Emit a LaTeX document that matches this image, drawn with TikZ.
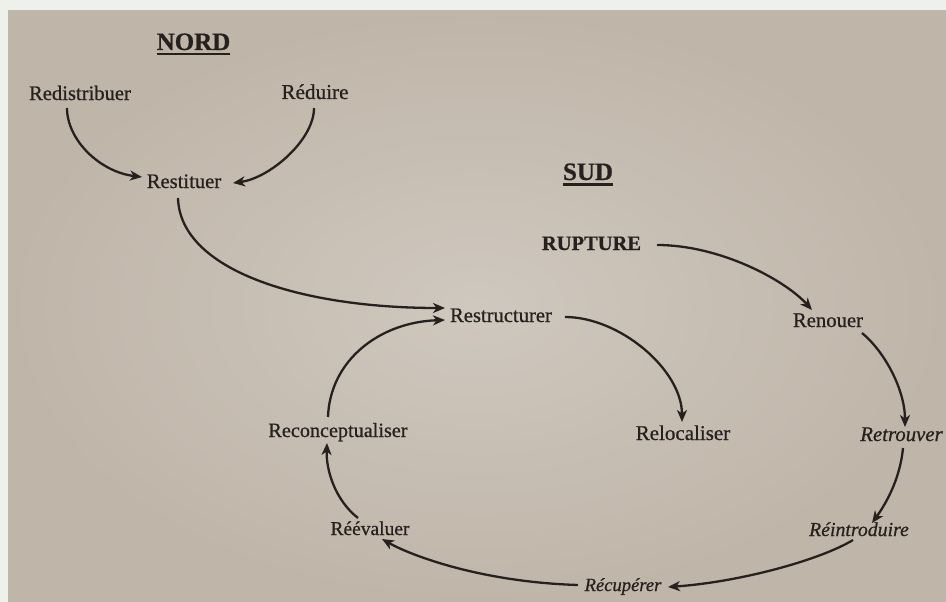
\documentclass[tikz,border=0pt]{standalone}
\usepackage{fontspec}
\setmainfont{Liberation Serif}[FakeBold=0.7]
\usetikzlibrary{arrows.meta,calc}
\definecolor{ink}{HTML}{26211E}
\definecolor{frame}{HTML}{EEF0EC}
\definecolor{pagein}{HTML}{CFC8BE}
\definecolor{pageout}{HTML}{C0B5A9}
\newcommand{\myul}[1]{\setbox0\hbox{#1}\rlap{\color{ink}\rule[-5.5pt]{\wd0}{2.5pt}}\box0}
\tikzset{
  lbl/.style={inner sep=0pt, anchor=base, text=ink, font=\fontsize{20.6}{24}\selectfont},
  ital/.style={lbl, font=\fontsize{20.6}{24}\selectfont\itshape},
  head/.style={lbl, font=\fontsize{25}{30}\selectfont\bfseries},
  arr/.style={draw=ink, line width=2.3pt, -{Stealth[length=12pt,width=10pt,inset=3.5pt]}}
}
\begin{document}
\begin{tikzpicture}[x=1pt,y=-1pt]
\useasboundingbox (0,0) rectangle (946,602);
\fill[frame] (0,0) rectangle (946,602);
\shade[inner color=pagein, outer color=pageout] (8,11) rectangle (946,602);

% NORD
\node[head] (nord) at (193.5,50) {\myul{NORD}};
\node[lbl] (redistribuer) at (80,100) {Redistribuer};
\node[lbl, font=\fontsize{21.2}{24}\selectfont] (reduire) at (315,99) {Réduire};
\node[lbl] (restituer) at (184,188) {Restituer};

% SUD
\node[head] (sud) at (588,180) {\myul{SUD}};
\node[lbl, font=\fontsize{20.5}{24}\selectfont\bfseries] (rupture) at (591.5,250) {RUPTURE};
\node[lbl] (restructurer) at (501,322) {Restructurer};
\node[lbl, font=\fontsize{20.7}{24}\selectfont] (renouer) at (828,327) {Renouer};
\node[lbl, font=\fontsize{20.2}{24}\selectfont] (reconceptualiser) at (338,437) {Reconceptualiser};
\node[lbl, font=\fontsize{21}{24}\selectfont] (relocaliser) at (683,440) {Relocaliser};
\node[ital, font=\fontsize{20.8}{24}\selectfont\itshape] (retrouver) at (901.5,441) {Retrouver};
\node[lbl, font=\fontsize{19.5}{24}\selectfont] (reevaluer) at (370,535) {Réévaluer};
\node[ital, font=\fontsize{19.8}{24}\selectfont\itshape] (reintroduire) at (859,536) {Réintroduire};
\node[ital, font=\fontsize{18.6}{24}\selectfont\itshape] (recuperer) at (623,591) {Récupérer};

% connectors
\draw[arr] ($(redistribuer.base)+(-13,8)$) .. controls +(0,32) and +(-42,-5) .. ($(restituer.base)+(-42,-11)$);
\draw[arr] ($(reduire.base)+(-1,9)$) .. controls +(0,32) and +(37,-5) .. ($(restituer.base)+(49,-5)$);
\draw[arr] ($(restituer.base)+(-6,10)$) .. controls +(2,72) and +(-145,0) .. ($(restructurer.base)+(-56,-14)$);
\draw[arr] ($(reevaluer.base)+(-12,-17)$) .. controls +(-23,-18) and +(-1,27) .. ($(reconceptualiser.base)+(-11,6)$);
\draw[arr] ($(reconceptualiser.base)+(-10,-20)$) .. controls +(2,-57) and +(-65,2) .. ($(restructurer.base)+(-56,-2)$);
\draw[arr] ($(restructurer.base)+(64,-5)$) .. controls +(55,0) and +(0,-52) .. ($(relocaliser.base)+(-1,-18)$);
\draw[arr] ($(rupture.base)+(65.5,-5)$) .. controls +(63,0) and +(-27,-30) .. ($(renouer.base)+(-16,-17)$);
\draw[arr] ($(renouer.base)+(34,6)$) .. controls +(23,19) and +(0,-37) .. ($(retrouver.base)+(3.5,-14)$);
\draw[arr] ($(retrouver.base)+(1.5,7)$) .. controls +(-3,32) and +(13,-18) .. ($(reintroduire.base)+(13,-13)$);
\draw[arr] ($(reintroduire.base)+(-6,4)$) .. controls +(-33,20) and +(72,-5) .. ($(recuperer.base)+(45,-4)$);
\draw[arr] ($(recuperer.base)+(-45,-6)$) .. controls +(-98,-3) and +(28,16) .. ($(reevaluer.base)+(12,4)$);
\end{tikzpicture}
\end{document}
